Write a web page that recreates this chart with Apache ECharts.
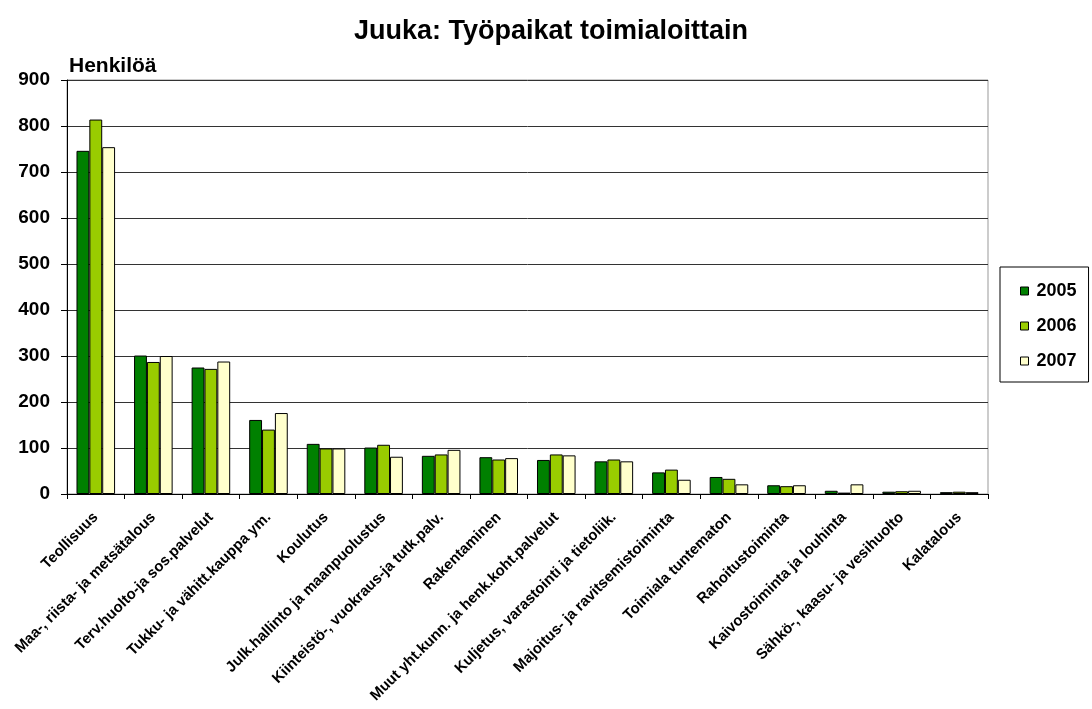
<!DOCTYPE html>
<html>
<head>
<meta charset="utf-8">
<script src="https://cdn.jsdelivr.net/npm/echarts@6/dist/echarts.min.js"></script>
<style>html,body{margin:0;padding:0;background:#fff;}#c{width:1092px;height:709px;}</style>
</head>
<body>
<div id="c"></div>
<script>
var categories = ["Teollisuus","Maa-, riista- ja metsätalous","Terv.huolto-ja sos.palvelut","Tukku- ja vähitt.kauppa ym.","Koulutus","Julk.hallinto ja maanpuolustus","Kiinteistö-, vuokraus-ja tutk.palv.","Rakentaminen","Muut yht.kunn. ja henk.koht.palvelut","Kuljetus, varastointi ja tietoliik.","Majoitus- ja ravitsemistoiminta","Toimiala tuntematon","Rahoitustoiminta","Kaivostoiminta ja louhinta","Sähkö-, kaasu- ja vesihuolto","Kalatalous"];
var seriesNames = ["2005","2006","2007"];
var v2005 = [746,301,275,161,109,101,83,80,74,71,47,37,19,7,5,4];
var v2006 = [814,287,272,140,99,107,86,75,86,75,53,33,17,3,6,5];
var v2007 = [754,300,288,176,99,81,96,78,84,71,31,21,19,21,7,4];
var yTicks = [0,100,200,300,400,500,600,700,800,900];
var colors = ["#008000","#99CC00","#FFFFCC"];
var font = "Liberation Sans, Arial, sans-serif";
var chart = echarts.init(document.getElementById('c'));
var data = [v2005,v2006,v2007];
chart.setOption({
  animation:false,
  backgroundColor:'#fff',
  title:[{text:"Juuka: Työpaikat toimialoittain",left:546,top:13,textAlign:'center',textStyle:{fontFamily:font,fontWeight:'bold',fontSize:27,color:'#000'}},
         {text:"Henkilöä",left:64,top:51,textStyle:{fontFamily:font,fontWeight:'bold',fontSize:21,color:'#000'}}],
  legend:{orient:'vertical',left:1000,top:267,padding:[15,12,12,20],itemGap:17,itemWidth:8,itemHeight:8,
    borderColor:'#000',borderWidth:1,backgroundColor:'#fff',icon:'rect',
    textStyle:{fontFamily:font,fontWeight:'bold',fontSize:18,color:'#000',padding:[0,0,0,3]},data:seriesNames,
    itemStyle:{borderColor:'#000',borderWidth:1}},
  grid:{left:67,right:104,top:80,bottom:215,show:true,borderColor:'#999',borderWidth:1},
  xAxis:{type:'category',data:categories,
    axisLine:{lineStyle:{color:'#000',width:1}},
    axisTick:{show:true,length:5,lineStyle:{color:'#000'}},
    axisLabel:{rotate:45,interval:0,margin:21,fontFamily:font,fontWeight:'bold',fontSize:15,color:'#000'}},
  yAxis:{type:'value',min:0,max:900,interval:100,
    axisLine:{show:true,lineStyle:{color:'#000'}},
    axisTick:{show:true,length:6,lineStyle:{color:'#000'}},
    splitLine:{lineStyle:{color:'#333',width:1}},
    axisLabel:{margin:17,fontFamily:font,fontWeight:'bold',fontSize:19,color:'#000',
      formatter:function(v){return yTicks.indexOf(v)>=0?String(v):'';}}},
  series:seriesNames.map(function(n,i){return {name:n,type:'bar',data:data[i],barGap:'0%',barCategoryGap:'33%',
    itemStyle:{color:colors[i],borderColor:'#000',borderWidth:1}};})
});
</script>
</body>
</html>
